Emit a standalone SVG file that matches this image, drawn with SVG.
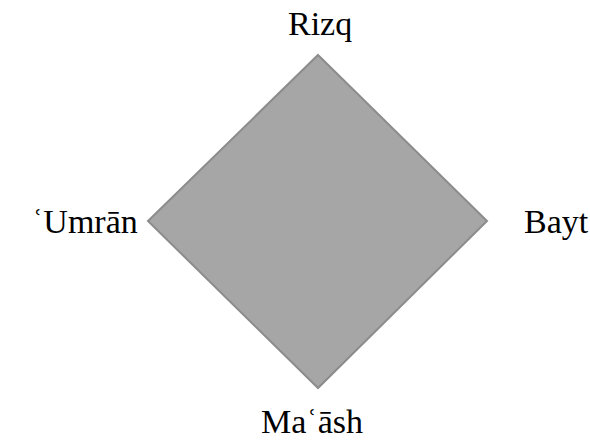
<svg xmlns="http://www.w3.org/2000/svg" width="590" height="446" viewBox="0 0 590 446">
<rect width="590" height="446" fill="#fff"/>
<g id="diamond">
<polygon points="318,55 487,221 318,388 148,221" fill="#a6a6a6" stroke="#8c8c8c" stroke-width="2"/>
</g>
<g id="rizq"><text x="288" y="35" font-family="serif" font-size="34">Rizq</text></g>
<g id="umran"><text x="32" y="233" font-family="serif" font-size="34">ʿUmrān</text></g>
<g id="bayt"><text x="524" y="233" font-family="serif" font-size="34">Bayt</text></g>
<g id="maash"><text x="261" y="433" font-family="serif" font-size="34">Maʿāsh</text></g>
</svg>
